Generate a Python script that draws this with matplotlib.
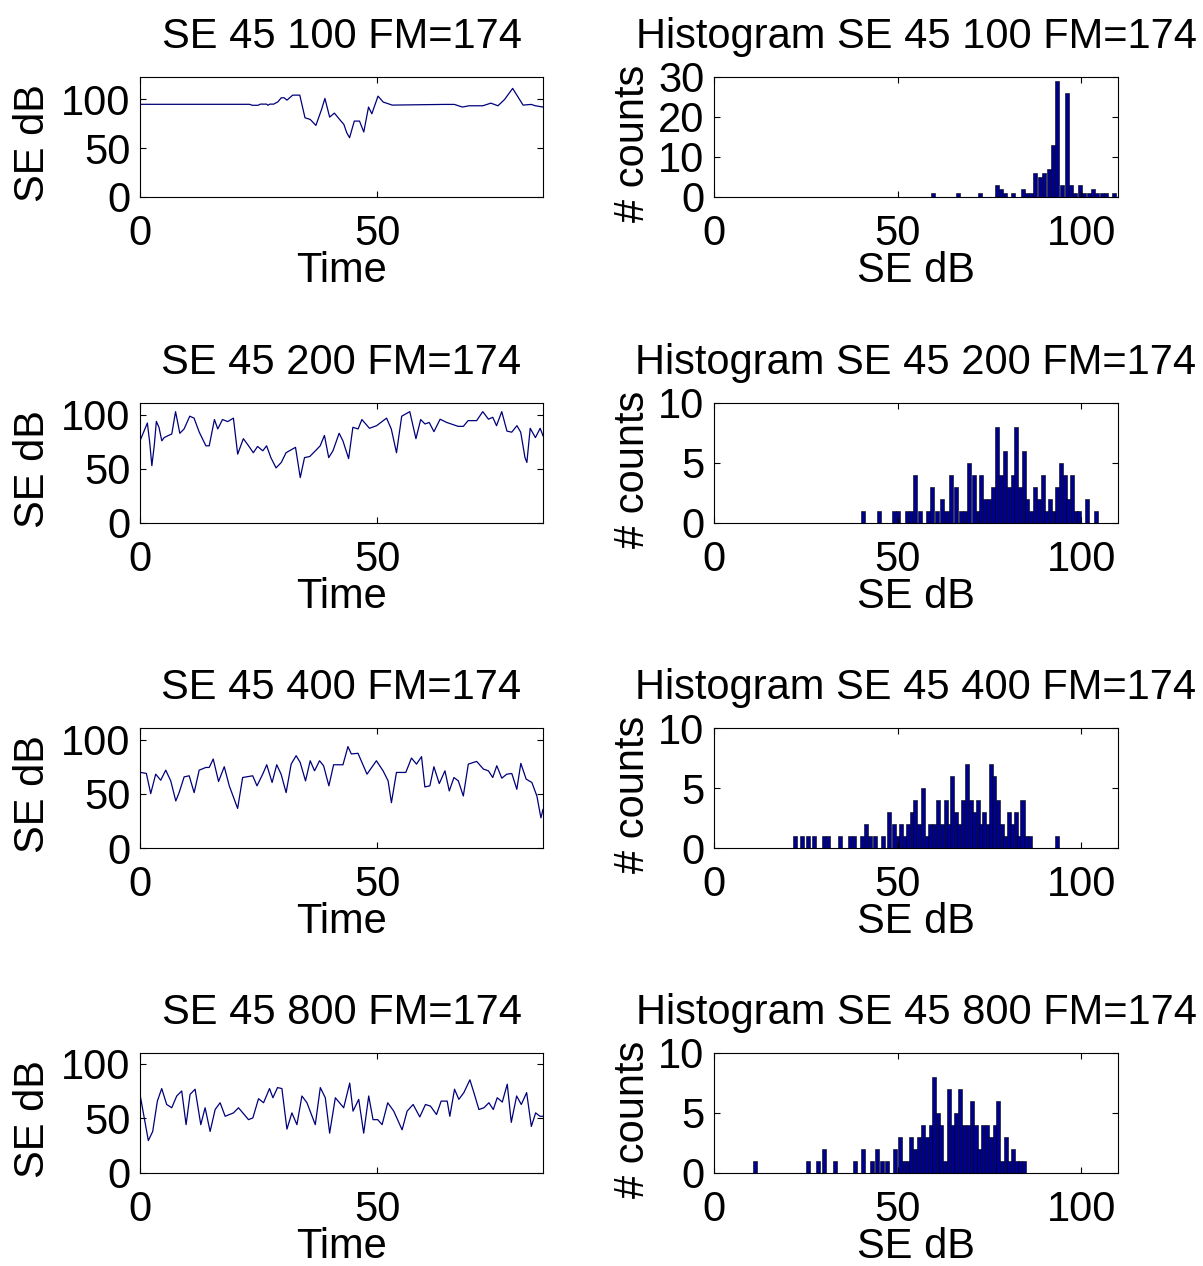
import matplotlib
matplotlib.use("Agg")
import matplotlib.pyplot as plt

plt.rcParams['font.family'] = ['Liberation Sans', 'DejaVu Sans']

# ------------------------------------------------------------------
# Data (SE 45, FM=174, four settings)
# ------------------------------------------------------------------

settings = ["100", "200", "400", "800"]

# time series: vertices (Time, SE dB)
t_100 = [0, 23.1, 23.7, 24.9, 25.4, 26.7, 27.0, 27.4, 28.2, 29.1, 29.8, 30.4, 31.0, 32.2, 33.7,
         34.8, 35.9, 37.1, 38.3, 39.0, 40.0, 41.0, 42.1, 43.0, 43.6, 44.2, 45.2, 46.3, 47.2, 48.2,
         48.9, 50.2, 51.3, 53.2, 64.1, 66.3, 68.0, 69.4, 72.3, 74.0, 75.5, 76.9, 78.6, 80.8, 82.5,
         83.4, 85.0]
se_100 = [95, 95, 94, 94, 95.2, 95.2, 94, 95.2, 95.2, 97.6, 101.7, 101.7, 99.3, 104.4, 104.4,
          81.2, 79.5, 73.4, 89.8, 101, 81.9, 86, 79.5, 74.4, 65.9, 60.8, 77.8, 77.8, 66.6, 92.2,
          85.3, 103.4, 97.3, 94.2, 94.9, 94.9, 92.2, 93.5, 93.5, 96.2, 93.5, 100, 111.3, 94.2, 94.9,
          93.5, 92.2]

t_200 = [0, 0.85, 1.55, 2.05, 2.5, 3.0, 3.45, 4.0, 4.6, 5.1, 6.0, 6.7, 7.5, 8.4, 9.3, 10.5, 11.4,
         12.5, 13.9, 14.6, 15.7, 16.4, 17.4, 18.5, 19.7, 20.6, 21.8, 22.9, 23.9, 24.8, 25.9, 26.7,
         27.6, 28.7, 29.8, 30.8, 32.8, 33.8, 34.7, 35.8, 37.0, 38.0, 38.9, 39.8, 40.7, 42.0, 42.8,
         44.0, 44.9, 46.0, 46.8, 48.4, 49.9, 52.0, 53.0, 54.1, 55.2, 56.9, 58.2, 59.2, 60.1, 61.0,
         62.0, 63.3, 64.7, 67.1, 68.2, 69.2, 71.0, 72.3, 73.5, 74.4, 75.2, 76.3, 77.4, 78.4, 79.5,
         80.3, 81.2, 81.6, 82.3, 83.4, 84.4, 85.0]
se_200 = [76, 85, 92.5, 74.5, 53, 71.4, 94, 88.5, 76, 79, 81, 82.3, 103, 83, 87, 98.8, 97,
          84, 71.4, 71.4, 95.7, 87, 95.7, 93.8, 97, 63.7, 78, 71.4, 65, 70.8, 66.8, 71.4,
          60.5, 51, 56, 65, 70, 42, 60.5, 61.5, 66.8, 71.4, 81, 60.5, 66.8, 83, 76,
          59.6, 88.5, 87, 95.7, 87.6, 90, 97, 87, 65, 98.8, 103, 78, 95.7, 91.6, 93,
          84.5, 96, 93, 89.4, 89.4, 94.7, 94.7, 103, 96, 97.8, 90, 103, 85, 84, 90,
          84, 60.5, 56, 87.6, 79, 87.6, 80.7]

t_400 = [0, 1.34, 2.26, 3.31, 4.37, 5.43, 6.49, 7.55, 8.25, 9.31, 10.37, 11.42, 12.48, 13.89,
         14.6, 15.44, 16.57, 17.77, 18.83, 20.59, 21.65, 23.77, 24.68, 25.88, 26.73, 27.86, 28.84,
         29.76, 30.82, 31.88, 32.93, 33.78, 34.91, 35.9, 36.81, 37.87, 38.72, 39.84, 40.83, 42.81,
         43.86, 44.57, 45.98, 47.88, 49.86, 51.27, 52.33, 53.03, 54.09, 56.06, 57.26, 58.32, 59.38,
         60.08, 61.14, 61.99, 63.12, 64.32, 65.23, 66.22, 67.14, 68.19, 69.25, 71.01, 72.43, 73.48,
         74.4, 75.25, 76.31, 77.36, 78.42, 79.48, 80.32, 81.45, 82.65, 83.71, 84.56, 85.0]
se_400 = [70, 69, 50.3, 68.3, 62.7, 72, 62, 43.5, 51.2, 65.8, 66.8, 51.2, 72, 74.5,
          74.5, 82.3, 61.5, 75.2, 57.5, 36.6, 65.2, 66.8, 57.5, 68.3, 77, 60.6, 77,
          68.3, 51.2, 77.6, 85.4, 79.2, 62.1, 80.7, 71.4, 80.7, 76.1, 57.5, 77, 77,
          93.8, 87, 87.6, 68.3, 80.7, 71.4, 62.1, 41.9, 69.9, 69.9, 83.2, 77.6, 84.5,
          56.5, 57.5, 75.2, 59.6, 71.4, 52.8, 65.2, 62.1, 48.1, 77.6, 80.1, 73, 71.4,
          65.2, 76.1, 64.6, 68.3, 68.9, 54.3, 78.3, 63.7, 60.6, 48.1, 27.9, 35.7]

t_800 = [0, 1.76, 2.68, 3.66, 4.58, 5.63, 6.69, 7.75, 8.8, 9.72, 10.56, 11.62, 12.82, 13.73,
         14.79, 15.85, 16.9, 17.96, 19.72, 20.77, 22.89, 23.8, 25.0, 26.06, 27.32, 28.03, 29.01,
         29.93, 30.99, 32.04, 33.1, 34.15, 35.21, 36.97, 38.03, 39.08, 40.0, 41.2, 42.96, 44.23,
         44.93, 46.13, 47.18, 48.24, 49.15, 50.14, 51.06, 52.25, 53.52, 55.28, 56.34, 57.61, 59.01,
         60.21, 61.27, 62.54, 63.52, 64.79, 65.35, 66.34, 67.25, 68.31, 69.58, 70.42, 71.48, 72.54,
         73.59, 74.51, 75.35, 76.41, 77.46, 78.31, 79.44, 80.42, 81.55, 82.54, 83.45, 84.37, 85.0]
se_800 = [72.1, 29.7, 38.1, 65.9, 77.4, 62.8, 59.8, 70.6, 75.2, 44.3, 72.1, 76.8, 44.3, 59.8,
          38.1, 58.2, 64.4, 52, 55.1, 59.8, 48.9, 50.5, 68.1, 64.4, 77.4, 69, 78.3,
          77.4, 40.2, 55.1, 44.3, 70.6, 64.4, 44.3, 78.3, 69, 36.5, 69, 59.8, 82.4,
          56.7, 67.5, 36.5, 70.6, 48.9, 48.9, 44.3, 64.4, 56.7, 39.6, 56.7, 62.8, 51.4,
          62.8, 61.3, 53.6, 65.9, 65.9, 52, 76.8, 67.5, 73.7, 85.4, 73.7, 58.2, 59.8,
          64.4, 58.2, 69, 65, 81.4, 46.4, 70.6, 62.8, 73.7, 42.7, 55.1, 52, 52]

# histograms: bin centres (SE dB) and counts
hb_100 = [59.7, 66.4, 72.5, 77.0, 78.1, 79.2, 81.5, 84.1, 85.3, 86.4, 87.5, 88.7, 89.9, 91.1,
          92.3, 93.5, 94.7, 96.0, 97.2, 98.4, 99.6, 100.8, 102.0, 103.2, 104.4, 105.6, 106.8, 109.0]
hc_100 = [1, 1, 1, 3, 2, 1, 1, 2, 1, 1, 6, 5, 6, 7,
          13, 29, 3, 26, 3, 1, 3, 1, 1, 2, 1, 1, 1, 1]

hb_200 = [40.5, 45.0, 49.0, 50.2, 52.5, 53.6, 54.8, 56.2, 58.4, 59.3, 60.8, 62.0, 63.3, 64.4,
          65.8, 67.2, 68.4, 69.5, 70.7, 71.8, 72.8, 73.9, 75.0, 76.1, 77.1, 78.2, 79.3, 80.3,
          81.3, 82.3, 83.3, 84.3, 85.3, 86.3, 87.4, 88.5, 89.5, 90.5, 91.5, 92.5, 93.5, 94.5,
          95.5, 96.5, 97.5, 98.5, 99.5, 101.5, 104.0]
hc_200 = [1, 1, 1, 1, 1, 1, 4, 1, 1, 3, 1, 2, 1, 4,
          3, 1, 1, 5, 4, 1, 4, 2, 2, 3, 8, 4, 6, 3,
          4, 8, 3, 6, 2, 1, 3, 2, 4, 1, 2, 1, 3, 5,
          4, 2, 4, 1, 1, 2, 1]

hb_400 = [22.0, 24.0, 25.6, 27.2, 30.0, 31.1, 34.3, 37.0, 38.1, 40.2, 41.3, 42.4, 43.8, 46.1,
          47.7, 48.9, 50.0, 50.9, 51.9, 52.9, 53.8, 54.8, 55.9, 56.9, 57.9, 58.9, 59.9, 61.0,
          62.1, 63.1, 64.1, 64.9, 65.9, 66.8, 67.8, 68.8, 69.9, 70.9, 71.8, 72.7, 73.6, 74.5,
          75.4, 76.3, 77.3, 78.3, 79.2, 80.3, 81.2, 82.1, 83.1, 84.0, 85.0, 86.0, 93.3]
hc_400 = [1, 1, 1, 1, 1, 1, 1, 1, 1, 1, 2, 1, 1, 1,
          3, 2, 1, 2, 1, 2, 3, 4, 2, 5, 1, 2, 2, 4,
          2, 4, 2, 6, 3, 2, 4, 7, 4, 3, 4, 2, 3, 2,
          7, 6, 4, 2, 1, 3, 2, 3, 1, 4, 1, 1, 1]

hb_800 = [11.2, 25.5, 28.3, 30.0, 32.9, 38.5, 40.6, 42.9, 44.5, 45.8, 47.0, 49.4, 50.6, 51.7,
          52.8, 53.7, 54.7, 55.8, 56.8, 57.9, 59.0, 60.0, 60.9, 61.8, 62.8, 63.9, 65.0, 65.9,
          66.9, 68.0, 69.1, 70.2, 71.2, 72.2, 73.3, 74.4, 75.4, 76.4, 77.4, 78.4, 79.4, 80.4,
          81.4, 82.4, 83.4, 84.4]
hc_800 = [1, 1, 1, 2, 1, 1, 2, 1, 2, 1, 1, 2, 3, 1,
          1, 3, 2, 3, 4, 3, 4, 8, 5, 4, 1, 7, 4, 5,
          7, 4, 4, 6, 4, 2, 4, 4, 3, 4, 6, 1, 3, 1,
          2, 1, 1, 1]

# axis ranges / ticks per row
se_ymax = [123, 111, 111, 110]
hist_ymax = [30, 10, 10, 10]
hist_yticks = [[0, 10, 20, 30], [0, 5, 10], [0, 5, 10], [0, 5, 10]]

series = [(t_100, se_100), (t_200, se_200), (t_400, se_400), (t_800, se_800)]
hists = [(hb_100, hc_100), (hb_200, hc_200), (hb_400, hc_400), (hb_800, hc_800)]

# ------------------------------------------------------------------
# Style (MATLAB look)
# ------------------------------------------------------------------
FS = 30
LINE_COLOR = '#00007a'
BAR_COLOR = '#00008f'
BIN_WIDTH = 1.1

FIG_W, FIG_H = 1203, 1266
ROW_TOPS = [77, 403, 728, 1053]
ROW_H = 120


def px_rect(left, top, right, bottom):
    """Axes rectangle from pixel edges measured on the reference."""
    return [left / FIG_W, 1 - bottom / FIG_H, (right - left) / FIG_W, (bottom - top) / FIG_H]


def style_axes(ax):
    for sp in ax.spines.values():
        sp.set_linewidth(0.8)
    ax.tick_params(direction='in', top=True, right=True, length=4, width=0.8, labelsize=FS)
    ax.tick_params(axis='x', pad=12)
    ax.tick_params(axis='y', pad=7)


fig = plt.figure(figsize=(FIG_W / 100, FIG_H / 100), dpi=100, facecolor='white')

for i, name in enumerate(settings):
    top = ROW_TOPS[i]

    # time series
    ax = fig.add_axes(px_rect(140, top, 543, top + ROW_H))
    t, se = series[i]
    ax.plot(t, se, color=LINE_COLOR, linewidth=0.9)
    ax.set_xlim(0, 85)
    ax.set_ylim(0, se_ymax[i])
    ax.set_xticks([0, 50])
    ax.set_yticks([0, 50, 100])
    style_axes(ax)
    ax.set_title(f"SE 45 {name} FM=174", fontsize=FS, pad=21)
    ax.set_xlabel("Time", fontsize=FS, labelpad=-2)
    ax.set_ylabel("SE dB", fontsize=FS)
    ax.yaxis.set_label_coords(-0.215, 0.45)

    # histogram
    axh = fig.add_axes(px_rect(714, top, 1118, top + ROW_H))
    hb, hc = hists[i]
    axh.bar(hb, hc, width=BIN_WIDTH, color=BAR_COLOR, edgecolor='black', linewidth=0.4)
    axh.set_xlim(0, 110)
    axh.set_ylim(0, hist_ymax[i])
    axh.set_xticks([0, 50, 100])
    axh.set_yticks(hist_yticks[i])
    style_axes(axh)
    axh.set_title(f"Histogram SE 45 {name} FM=174", fontsize=FS, pad=21)
    axh.set_xlabel("SE dB", fontsize=FS, labelpad=-2)
    axh.set_ylabel("# counts", fontsize=FS)
    axh.yaxis.set_label_coords(-0.15, 0.45)

fig.savefig("out.png", dpi=100, facecolor='white')
